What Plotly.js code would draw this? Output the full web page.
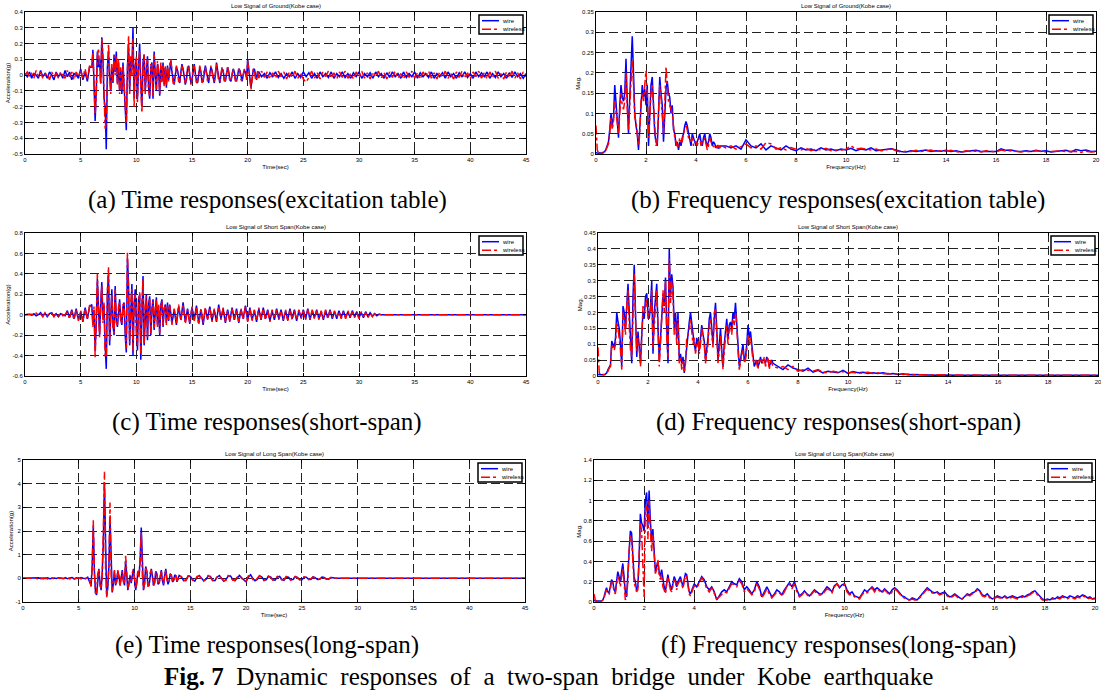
<!DOCTYPE html>
<html><head><meta charset="utf-8">
<script src="https://cdn.plot.ly/plotly-3.0.1.min.js"></script>
<style>html,body{margin:0;padding:0;background:#fff;}#chart{width:1101px;height:695px;}</style>
</head><body><div id="chart"></div>
<script>
function seq(a,b,step){const n=Math.round((b-a)/step);const o=[];for(let i=0;i<=n;i++)o.push(+(a+i*step).toFixed(3));return o;}

// ---------- sample axes (seconds / Hz) ----------
const groundTime = [].concat(seq(0,5.8,0.2), seq(6,12.9,0.1), seq(13,20.9,0.1), seq(21,45,0.25));
const groundFreq = [].concat(seq(0,5,0.05), seq(5.2,20,0.2));
const shortTime  = [].concat(seq(0,5.8,0.2), seq(6,12.9,0.1), seq(13,31.8,0.2), seq(32,45,1));
const shortFreq  = [].concat(seq(0,7,0.05), seq(7.2,20,0.2));
const longTime   = [].concat(seq(0,5.8,0.2), seq(6,13.9,0.1), seq(14,27.8,0.2), seq(28,45,1));
const longFreq   = [].concat(seq(0,4,0.05), seq(4.1,20,0.1));

// ---------- (a) ground, time ----------
const groundTimeWire = [
0.01,-0.01,0.02,-0.02,0.01,0.00,-0.02,0.03,-0.01,0.01,
-0.02,0.02,0.00,-0.03,0.02,-0.01,0.01,-0.02,0.03,-0.01,
0.02,-0.03,0.01,0.00,-0.02,0.04,-0.03,0.02,-0.04,0.05,
0.05,0.16,-0.05,-0.29,-0.1,0.15,0.05,0.1,-0.05,0.24,
0.1,-0.15,-0.2,-0.47,0.05,0.15,0.0,-0.1,0.05,-0.05,
0.13,0.02,0.15,-0.05,0.08,-0.1,0.03,-0.12,0.08,-0.05,
-0.2,-0.35,0.05,0.2,-0.1,0.1,0.05,0.3,-0.15,0.05,
0.1,-0.15,0.05,0.2,-0.05,-0.2,0.08,0.13,-0.1,0.05,
0.12,-0.08,-0.15,0.05,0.08,-0.15,0.15,0.0,-0.1,0.07,
0.03,-0.13,0.06,-0.04,0.08,-0.06,0.05,-0.08,0.06,-0.03,
0.06,0.09,0.02,-0.04,-0.06,0.0,0.05,0.03,-0.03,-0.05,
0.02,0.07,0.04,-0.02,-0.06,-0.03,0.04,0.06,0.0,-0.05,
-0.03,0.04,0.07,0.01,-0.04,-0.05,0.02,0.05,0.02,-0.04,
-0.04,0.03,0.06,0.02,-0.03,-0.05,0.01,0.05,0.03,-0.02,
-0.05,0.0,0.08,0.03,-0.03,-0.05,0.0,0.04,0.03,-0.03,
-0.04,0.01,0.05,0.02,-0.03,-0.04,0.01,0.04,0.02,-0.03,
-0.04,0.0,0.04,0.03,-0.02,-0.04,0.0,0.03,0.02,-0.02,
0.1,0.03,-0.04,-0.08,-0.02,0.03,0.04,-0.01,-0.03,0.02,
0.02,-0.01,0.01,-0.02,0.015,-0.01,0.02,-0.015,0.01,-0.02,
0.01,-0.01,0.02,-0.02,0.01,-0.015,0.02,-0.01,0.015,-0.02,
0.01,-0.02,0.02,-0.01,0.01,-0.015,0.02,-0.02,0.01,-0.01,
0.02,-0.015,0.01,-0.02,0.015,-0.01,0.02,-0.02,0.01,-0.01,
0.015,-0.02,0.02,-0.01,0.01,-0.02,0.015,-0.015,0.02,-0.01,
0.01,-0.02,0.02,-0.015,0.01,-0.01,0.02,-0.02,0.015,-0.01,
0.01,-0.015,0.02,-0.02,0.01,-0.01,0.015,-0.02,0.02,-0.01,
0.01,-0.02,0.015,-0.01,0.02,-0.015,0.01,-0.02,0.02,-0.01,
0.015,-0.01,0.02,-0.02,0.01,-0.015,0.02,-0.01,0.01,-0.02,
0.015,-0.015,0.02,-0.01,0.01,-0.02,0.01];
const groundTimeWireless = [
0.00,0.02,-0.01,0.01,-0.02,0.03,-0.01,0.02,-0.02,0.00,
0.01,-0.03,0.02,-0.01,0.01,-0.02,0.02,0.00,-0.02,0.03,
-0.01,0.02,-0.03,0.02,-0.01,0.03,-0.02,0.04,-0.03,0.06,
0.04,0.14,-0.08,-0.25,-0.12,0.12,0.17,0.08,-0.06,0.23,
0.12,-0.12,-0.34,-0.3,0.02,0.2,0.03,-0.12,0.07,-0.04,
0.12,0.0,0.12,-0.06,0.1,-0.12,0.05,-0.1,0.06,-0.08,
-0.18,-0.3,0.02,0.25,-0.12,0.12,0.0,0.23,-0.2,0.07,
0.12,-0.18,0.08,0.15,-0.08,-0.24,0.05,0.13,-0.12,0.07,
0.1,-0.1,-0.13,0.07,0.06,-0.14,0.13,-0.02,-0.09,0.09,
0.02,-0.12,0.08,-0.05,0.07,-0.07,0.06,-0.06,0.05,-0.04,
0.07,0.1,0.0,-0.05,-0.05,0.02,0.06,0.02,-0.04,-0.04,
0.03,0.06,0.03,-0.03,-0.05,-0.02,0.05,0.05,-0.01,-0.06,
-0.02,0.05,0.06,0.0,-0.05,-0.04,0.03,0.06,0.01,-0.05,
-0.03,0.04,0.05,0.01,-0.04,-0.04,0.02,0.06,0.02,-0.03,
-0.04,0.02,0.07,0.02,-0.04,-0.04,0.01,0.05,0.02,-0.04,
-0.03,0.02,0.05,0.01,-0.04,-0.03,0.02,0.04,0.01,-0.04,
-0.03,0.01,0.04,0.02,-0.03,-0.03,0.01,0.04,0.01,-0.03,
0.09,0.04,-0.03,-0.09,-0.03,0.04,0.03,-0.02,-0.02,0.03,
-0.02,0.025,-0.015,0.02,-0.025,0.015,-0.02,0.025,-0.01,0.02,
-0.025,0.02,-0.015,0.025,-0.02,0.01,-0.025,-0.045,-0.015,0.025,
-0.02,0.015,-0.025,0.02,-0.01,0.025,-0.02,0.015,-0.025,0.02,
-0.015,0.025,-0.02,0.01,-0.025,0.02,-0.015,0.025,-0.02,0.015,
-0.025,0.02,-0.01,0.025,-0.02,0.015,-0.025,0.02,-0.015,0.025,
-0.02,0.01,-0.025,0.02,-0.015,0.025,-0.02,0.015,-0.025,0.02,
-0.01,0.025,-0.02,0.015,-0.025,0.02,-0.015,0.025,-0.02,0.01,
-0.025,0.02,-0.015,0.025,-0.02,0.015,-0.025,0.02,-0.01,0.025,
-0.02,0.015,-0.025,0.02,-0.015,0.025,-0.02,0.01,-0.025,0.02,
-0.015,0.025,-0.02,0.015,-0.025,0.02,-0.01];

// ---------- (b) ground, frequency ----------
const groundFreqWire = [
0.003,0.002,0.002,0.003,0.002,0.003,0.004,0.006,0.012,0.02,
0.03,0.06,0.1,0.07,0.09,0.17,0.12,0.09,0.04,0.12,
0.17,0.14,0.13,0.15,0.235,0.13,0.05,0.14,0.22,0.29,
0.2,0.1,0.07,0.05,0.01,0.06,0.12,0.17,0.14,0.16,
0.12,0.17,0.02,0.1,0.17,0.19,0.1,0.05,0.03,0.02,
0.1,0.19,0.15,0.12,0.03,0.1,0.16,0.18,0.15,0.14,
0.1,0.12,0.06,0.05,0.02,0.03,0.01,0.03,0.02,0.04,
0.05,0.07,0.08,0.07,0.05,0.03,0.02,0.05,0.04,0.03,
0.02,0.03,0.04,0.05,0.03,0.02,0.04,0.05,0.03,0.02,
0.03,0.05,0.04,0.02,0.03,0.025,0.015,0.02,0.015,0.02,
0.02,
0.02,0.015,0.02,0.012,0.035,0.02,0.015,0.025,0.01,0.02,
0.015,0.01,0.02,0.012,0.008,0.015,0.01,0.012,0.008,0.015,
0.01,0.012,0.008,0.012,0.01,0.014,0.008,0.012,0.01,0.015,
0.008,0.01,0.012,0.013,0.01,0.006,0.005,0.008,0.006,0.008,
0.01,0.006,0.008,0.007,0.009,0.006,0.008,0.005,0.006,0.007,
0.009,0.006,0.006,0.007,0.006,0.013,0.009,0.01,0.007,0.006,
0.008,0.006,0.009,0.007,0.008,0.005,0.006,0.007,0.009,0.005,
0.011,0.008,0.01,0.006,0.007];
const groundFreqWireless = [
0.07,0.01,0.003,0.002,0.003,0.002,0.003,0.005,0.01,0.02,
0.025,0.05,0.09,0.06,0.08,0.13,0.1,0.07,0.05,0.1,
0.15,0.12,0.11,0.13,0.2,0.11,0.06,0.12,0.18,0.23,
0.17,0.09,0.08,0.04,0.02,0.05,0.13,0.15,0.13,0.17,
0.205,0.15,0.04,0.09,0.15,0.17,0.12,0.04,0.02,0.03,
0.09,0.17,0.14,0.1,0.05,0.12,0.215,0.17,0.13,0.12,
0.11,0.1,0.07,0.04,0.03,0.02,0.02,0.04,0.03,0.03,
0.05,0.06,0.07,0.06,0.04,0.04,0.03,0.04,0.02,0.03,
0.03,0.02,0.035,0.04,0.02,0.03,0.03,0.04,0.02,0.01,
0.02,0.04,0.03,0.02,0.02,0.015,0.02,0.015,0.02,0.015,
0.02,
0.015,0.02,0.012,0.018,0.025,0.015,0.02,0.012,0.028,0.025,
0.012,0.015,0.01,0.016,0.012,0.01,0.014,0.008,0.012,0.01,
0.014,0.008,0.01,0.009,0.012,0.02,0.012,0.014,0.012,0.01,
0.012,0.008,0.01,0.014,0.008,0.005,0.007,0.006,0.009,0.006,
0.008,0.01,0.006,0.008,0.007,0.009,0.006,0.004,0.008,0.006,
0.007,0.005,0.008,0.006,0.005,0.01,0.007,0.008,0.006,0.005,
0.007,0.005,0.008,0.006,0.005,0.006,0.007,0.008,0.006,0.007,
0.006,0.004,0.007,0.005,0.006];

// ---------- (c) short span, time ----------
const shortTimeWire = [
0,0,0.005,-0.005,0.01,-0.01,0,0.02,-0.01,0.015,
-0.02,0.01,0.02,-0.015,0.01,-0.02,0.01,0.0,-0.01,0.04,
-0.03,0.05,-0.04,0.06,-0.05,0.03,-0.07,0.07,-0.04,0.08,
0.1,-0.1,0.05,-0.35,-0.1,0.35,0.05,-0.2,0.1,0.32,
-0.05,0.1,-0.3,-0.53,0.2,0.4,-0.3,0.1,0.25,-0.1,
-0.2,0.28,-0.05,-0.12,0.05,0.15,-0.05,-0.1,0.08,0.12,
-0.2,-0.37,0.55,0.3,-0.3,0.1,0.3,-0.4,0.1,0.25,
-0.2,-0.35,0.15,0.2,-0.44,0.1,0.38,-0.3,0.05,0.2,
-0.25,0.1,0.18,-0.2,0.05,0.15,-0.15,0.05,0.17,-0.1,
0.08,-0.2,0.1,0.15,-0.12,0.05,0.1,-0.08,0.12,-0.06,
0.1,-0.08,0.05,-0.1,0.08,-0.05,0.12,-0.07,0.06,-0.09,
0.07,-0.05,0.09,-0.08,0.05,-0.1,0.06,-0.04,0.08,-0.06,
0.05,-0.07,0.1,-0.04,0.06,-0.08,0.05,-0.06,0.07,-0.05,
0.06,-0.08,0.05,-0.04,0.09,-0.06,0.07,-0.05,0.04,-0.07,
0.06,-0.05,0.07,-0.04,0.05,-0.06,0.04,-0.05,0.06,-0.04,
0.05,-0.06,0.04,-0.05,0.06,-0.04,0.05,-0.06,0.04,-0.03,
0.05,-0.04,0.06,-0.05,0.04,-0.03,0.05,-0.04,0.03,-0.05,
0.04,-0.03,0.05,-0.04,0.03,-0.04,0.04,-0.03,0.04,-0.03,
0.03,-0.03,0.04,-0.02,0.03,-0.03,0.02,-0.03,0.03,-0.02,
0.02,-0.015,0.01,-0.01,0.005,
0,0,0,0,0,0,0,0,0,0,0,0,0,0];
const shortTimeWireless = [
0,0,0,0.005,-0.01,0.015,-0.005,0.01,-0.02,0.02,
-0.01,0.02,0.015,-0.02,0.015,-0.01,0.02,-0.01,0.0,0.03,
-0.04,0.04,-0.05,0.05,-0.06,0.04,-0.06,0.06,-0.05,0.09,
0.08,-0.12,0.08,-0.42,-0.05,0.4,0.02,-0.22,0.12,0.28,
-0.08,0.12,-0.42,-0.4,0.25,0.47,-0.25,0.08,0.2,-0.12,
-0.18,0.25,-0.08,-0.1,0.08,0.12,-0.08,-0.08,0.1,0.1,
-0.22,-0.33,0.62,0.25,-0.28,0.12,0.25,-0.35,0.12,0.2,
-0.22,-0.3,0.12,0.22,-0.38,0.12,0.35,-0.28,0.08,0.18,
-0.22,0.12,0.15,-0.18,0.07,0.13,-0.13,0.07,0.15,-0.12,
0.1,-0.18,0.12,0.13,-0.1,0.07,0.08,-0.1,0.1,-0.05,
0.09,-0.1,0.06,-0.08,0.1,-0.06,0.1,-0.09,0.05,-0.08,
0.08,-0.06,0.07,-0.1,0.06,-0.08,0.07,-0.05,0.07,-0.07,
0.06,-0.06,0.08,-0.05,0.07,-0.07,0.04,-0.07,0.06,-0.06,
0.05,-0.07,0.06,-0.05,0.08,-0.07,0.06,-0.06,0.05,-0.06,
0.07,-0.04,0.06,-0.05,0.04,-0.07,0.05,-0.04,0.05,-0.05,
0.04,-0.05,0.05,-0.06,0.05,-0.05,0.04,-0.05,0.05,-0.04,
0.04,-0.05,0.05,-0.04,0.05,-0.04,0.04,-0.05,0.04,-0.04,
0.05,-0.04,0.04,-0.03,0.04,-0.03,0.03,-0.04,0.03,-0.04,
0.04,-0.02,0.03,-0.03,0.02,-0.04,0.03,-0.02,0.02,-0.03,
0.015,-0.02,0.01,-0.005,0.005,
0,0,0,0,0,0,0,0,0,0,0,0,0,0];

// ---------- (d) short span, frequency ----------
const shortFreqWire = [
0.005,0.004,0.003,0.004,0.005,0.004,0.006,0.01,0.02,0.03,
0.035,0.11,0.1,0.09,0.12,0.2,0.17,0.15,0.1,0.03,
0.22,0.2,0.15,0.25,0.29,0.2,0.1,0.04,0.25,0.35,
0.2,0.06,0.14,0.1,0.04,0.13,0.2,0.18,0.25,0.26,
0.2,0.18,0.22,0.3,0.07,0.2,0.25,0.29,0.15,0.05,
0.12,0.2,0.25,0.22,0.31,0.15,0.04,0.4,0.25,0.32,
0.28,0.15,0.2,0.12,0.2,0.05,0.07,0.04,0.06,0.01,
0.05,0.1,0.15,0.17,0.2,0.16,0.12,0.1,0.08,0.12,
0.1,0.08,0.12,0.16,0.13,0.11,0.05,0.08,0.12,0.18,
0.2,0.15,0.1,0.18,0.23,0.15,0.05,0.1,0.15,0.08,
0.03,0.1,0.15,0.18,0.12,0.16,0.17,0.15,0.2,0.18,
0.23,0.18,0.1,0.03,0.05,0.08,0.1,0.05,0.06,0.1,
0.16,0.12,0.14,0.1,0.06,0.03,0.04,0.05,0.03,0.04,
0.06,0.04,0.05,0.05,0.04,0.06,0.05,0.03,0.04,0.05,
0.04,
0.03,0.02,0.035,0.025,0.02,0.015,0.025,0.012,0.018,0.01,
0.015,0.012,0.01,0.018,0.008,0.014,0.01,0.012,0.008,0.01,
0.008,0.01,0.006,0.008,0.005,0.007,0.004,0.005,0.004,0.003,
0.004,0.003,0.002,0.003,0.002,0.003,0.002,0.002,0.003,0.002,
0.002,0.002,0.003,0.002,0.002,0.002,0.002,0.003,0.002,0.002,
0.002,0.002,0.002,0.003,0.002,0.002,0.002,0.002,0.002,0.002,
0.002,0.002,0.002,0.002,0.002];
const shortFreqWireless = [
0.09,0.01,0.003,0.004,0.004,0.005,0.005,0.01,0.015,0.025,
0.03,0.1,0.09,0.08,0.1,0.17,0.15,0.12,0.08,0.02,
0.2,0.18,0.13,0.22,0.27,0.16,0.08,0.06,0.22,0.32,
0.18,0.08,0.12,0.09,0.03,0.12,0.22,0.2,0.22,0.24,
0.18,0.2,0.2,0.27,0.09,0.18,0.22,0.27,0.12,0.03,
0.1,0.18,0.27,0.2,0.3,0.12,0.06,0.37,0.23,0.3,
0.25,0.13,0.17,0.1,0.18,0.04,0.06,0.02,0.05,0.01,
0.04,0.12,0.13,0.15,0.18,0.14,0.1,0.12,0.07,0.1,
0.11,0.07,0.1,0.15,0.12,0.1,0.04,0.07,0.1,0.16,
0.18,0.13,0.09,0.2,0.21,0.13,0.04,0.08,0.13,0.07,
0.02,0.08,0.13,0.16,0.1,0.15,0.16,0.13,0.18,0.16,
0.2,0.16,0.08,0.02,0.04,0.07,0.08,0.04,0.05,0.08,
0.13,0.1,0.12,0.08,0.05,0.04,0.05,0.04,0.02,0.05,
0.05,0.05,0.04,0.06,0.03,0.05,0.06,0.02,0.05,0.04,
0.03,
0.025,0.03,0.02,0.03,0.015,0.02,0.018,0.015,0.02,0.012,
0.01,0.015,0.012,0.014,0.01,0.012,0.008,0.01,0.012,0.008,
0.01,0.007,0.008,0.006,0.007,0.005,0.006,0.004,0.003,0.004,
0.003,0.004,0.003,0.002,0.003,0.002,0.003,0.002,0.002,0.003,
0.002,0.003,0.002,0.002,0.002,0.003,0.002,0.002,0.002,0.002,
0.002,0.002,0.003,0.002,0.002,0.002,0.002,0.002,0.003,0.002,
0.002,0.002,0.002,0.002,0.002];

// ---------- (e) long span, time ----------
const longTimeWire = [
0,0,0,0,0,0,0,0.02,-0.02,0.01,
-0.01,0.02,-0.02,0,0.01,-0.01,0.02,0,-0.01,0.03,
-0.02,0.01,0.03,-0.02,0.02,-0.01,0.03,0,-0.02,0.05,
-0.2,-0.3,0.5,2.2,0.3,-0.6,-0.7,0.1,0.4,-0.2,
-0.5,0.2,1.5,4.05,0.8,-0.75,-0.4,0.5,2.6,0.2,
-0.6,-0.2,0.3,-0.3,-0.1,0.3,0.1,-0.3,0.1,0.35,
-0.1,-0.3,0.75,0.2,-0.5,-0.2,0.1,-0.2,0.2,0.4,
0.0,-0.5,-0.2,0.3,0.1,0.8,2.15,0.2,-0.5,-0.2,
0.5,0.3,-0.3,-0.3,0.2,0.4,0.1,-0.3,-0.2,0.3,
0.2,-0.25,-0.2,0.2,0.35,-0.1,-0.3,0.1,0.4,0.0,
-0.25,-0.1,0.2,0.1,-0.15,-0.1,0.15,0.1,-0.15,0.0,
0.12,0.05,-0.1,-0.08,0.1,0.08,-0.05,-0.12,0.05,0.12,
0.0,-0.1,-0.05,0.1,0.08,-0.08,-0.1,0.05,0.12,0.0,
-0.12,-0.05,0.1,0.1,-0.05,-0.1,0.02,0.12,0.02,-0.08,
-0.15,0.05,0.15,0.0,-0.1,-0.05,0.1,0.06,-0.08,-0.06,
0.08,0.06,-0.06,-0.08,0.05,0.08,-0.04,-0.08,0.06,0.05,
-0.06,-0.05,0.07,0.04,-0.05,-0.06,0.05,0.05,-0.04,-0.05,
0.06,0.03,-0.05,-0.04,0.05,0.04,-0.03,-0.04,0.03,0.02,
0,0,0,0,0,0,0,0,0,0,0,0,0,0,0,0,0,0];
const longTimeWireless = [
0,0,0,0,0,0,0,-0.05,0.02,-0.02,
0.02,-0.03,0.01,0.02,-0.02,0.01,0,0.02,-0.02,0.02,
0.04,-0.02,0.02,-0.03,0.01,0.02,-0.02,0.03,-0.01,0.02,
-0.1,-0.35,0.4,2.45,0.2,-0.65,-0.6,0.2,0.35,-0.3,
-0.45,0.1,2.0,4.5,0.5,-0.8,-0.3,0.6,3.2,0.1,
-0.55,-0.1,0.35,-0.25,-0.15,0.35,0.05,-0.35,0.15,0.3,
-0.15,-0.25,0.95,0.1,-0.45,-0.25,0.15,-0.15,0.25,0.35,
-0.05,-0.45,-0.15,0.35,0.05,0.7,1.95,0.1,-0.45,-0.25,
0.45,0.25,-0.35,-0.25,0.25,0.35,0.05,-0.3,-0.15,0.25,
0.25,-0.2,-0.25,0.15,0.3,-0.05,-0.25,0.15,0.35,-0.05,
-0.2,-0.15,0.15,0.15,-0.1,-0.15,0.1,0.15,-0.1,-0.05,
0.1,0.08,-0.08,-0.1,0.08,0.1,-0.08,-0.1,0.08,0.1,
-0.02,-0.12,-0.02,0.12,0.05,-0.1,-0.08,0.08,0.1,-0.02,
-0.1,-0.08,0.12,0.08,-0.08,-0.08,0.05,0.1,0.0,-0.1,
-0.12,0.1,0.12,-0.05,-0.12,0.0,0.12,0.03,-0.1,-0.03,
0.1,0.03,-0.08,-0.05,0.08,0.05,-0.07,-0.05,0.08,0.02,
-0.08,-0.02,0.08,0.02,-0.07,-0.03,0.07,0.02,-0.06,-0.02,
0.06,0.01,-0.06,-0.02,0.05,0.02,-0.04,-0.02,0.03,0.01,
0,0,0,0,0,0,0,0,0,0,0,0,0,0,0,0,0,0];

// ---------- (f) long span, frequency ----------
const longFreqWire = [
0.02,0.01,0.01,0.01,0.01,0.01,0.01,0.02,0.05,0.1,
0.14,0.1,0.09,0.15,0.22,0.2,0.12,0.1,0.18,0.3,
0.25,0.2,0.3,0.38,0.25,0.1,0.05,0.25,0.55,0.7,
0.68,0.5,0.25,0.2,0.12,0.15,0.42,0.87,0.78,0.75,
0.7,1.0,1.08,0.75,1.1,0.8,0.6,0.72,0.5,0.3,
0.35,0.4,0.3,0.25,0.32,0.2,0.15,0.1,0.22,0.27,
0.2,0.15,0.12,0.18,0.25,0.22,0.15,0.2,0.23,0.25,
0.2,0.15,0.22,0.28,0.27,0.2,0.1,0.08,0.12,0.16,
0.18,
0.15,0.2,0.25,0.22,0.15,0.12,0.15,0.1,0.02,0.06,
0.1,0.12,0.1,0.15,0.2,0.18,0.17,0.23,0.2,0.12,
0.15,0.12,0.08,0.12,0.2,0.15,0.05,0.1,0.15,0.1,
0.05,0.08,0.12,0.1,0.07,0.12,0.16,0.19,0.15,0.2,
0.12,0.06,0.08,0.11,0.08,0.06,0.09,0.12,0.1,0.08,
0.08,0.12,0.15,0.13,0.1,0.16,0.18,0.14,0.17,0.18,
0.12,0.08,0.1,0.06,0.05,0.04,0.08,0.12,0.1,0.13,
0.15,0.12,0.14,0.12,0.1,0.13,0.1,0.08,0.12,0.14,
0.12,0.09,0.06,0.05,0.03,0.02,0.04,0.03,0.02,0.05,
0.08,0.12,0.14,0.12,0.1,0.09,0.1,0.08,0.09,0.1,
0.07,0.05,0.06,0.08,0.06,0.04,0.03,0.06,0.08,0.07,
0.09,0.1,0.13,0.11,0.07,0.06,0.08,0.05,0.03,0.04,
0.06,0.05,0.04,0.06,0.04,0.05,0.06,0.05,0.04,0.05,
0.06,0.05,0.07,0.08,0.1,0.11,0.08,0.05,0.03,0.02,
0.03,0.02,0.04,0.03,0.05,0.04,0.06,0.05,0.04,0.06,
0.05,0.04,0.06,0.05,0.07,0.06,0.04,0.05,0.03,0.04];
const longFreqWireless = [
0.08,0.02,0.01,0.01,0.01,0.01,0.01,0.02,0.04,0.08,
0.12,0.09,0.08,0.12,0.2,0.18,0.1,0.08,0.15,0.25,
0.22,0.15,0.25,0.33,0.2,0.02,0.05,0.2,0.5,0.65,
0.62,0.45,0.2,0.15,0.1,0.12,0.38,0.78,0.7,0.3,
0.05,0.9,0.95,0.62,1.0,0.7,0.5,0.67,0.45,0.28,
0.32,0.42,0.27,0.22,0.28,0.15,0.12,0.08,0.18,0.25,
0.18,0.12,0.1,0.15,0.22,0.2,0.12,0.18,0.2,0.22,
0.18,0.13,0.2,0.26,0.25,0.18,0.08,0.06,0.1,0.14,
0.16,
0.14,0.18,0.24,0.2,0.13,0.1,0.14,0.08,0.03,0.05,
0.08,0.1,0.09,0.13,0.18,0.17,0.15,0.21,0.18,0.1,
0.13,0.1,0.07,0.1,0.18,0.13,0.04,0.08,0.13,0.08,
0.04,0.07,0.1,0.09,0.06,0.1,0.15,0.18,0.13,0.18,
0.1,0.05,0.07,0.1,0.07,0.05,0.08,0.11,0.08,0.07,
0.07,0.1,0.13,0.12,0.09,0.15,0.18,0.15,0.16,0.17,
0.1,0.07,0.08,0.05,0.04,0.03,0.07,0.1,0.09,0.12,
0.14,0.1,0.13,0.11,0.09,0.12,0.09,0.07,0.1,0.13,
0.11,0.08,0.05,0.04,0.02,0.02,0.03,0.02,0.02,0.04,
0.07,0.1,0.13,0.1,0.09,0.08,0.09,0.07,0.08,0.09,
0.06,0.04,0.05,0.07,0.05,0.03,0.03,0.05,0.07,0.06,
0.08,0.09,0.12,0.1,0.06,0.05,0.07,0.04,0.03,0.04,
0.05,0.04,0.04,0.05,0.03,0.04,0.05,0.04,0.03,0.04,
0.05,0.04,0.06,0.07,0.09,0.1,0.07,0.04,0.02,0.02,
0.02,0.02,0.03,0.03,0.04,0.03,0.05,0.04,0.03,0.05,
0.04,0.03,0.05,0.04,0.06,0.05,0.03,0.04,0.03,0.03];

// ---------- tick labels / names ----------
const timeTicks = [0,5,10,15,20,25,30,35,40,45];
const freqTicks = [0,2,4,6,8,10,12,14,16,18,20];
const groundTimeYTicks = [-0.5,-0.4,-0.3,-0.2,-0.1,0,0.1,0.2,0.3,0.4];
const groundFreqYTicks = [0,0.05,0.1,0.15,0.2,0.25,0.3,0.35];
const shortTimeYTicks = [-0.6,-0.4,-0.2,0,0.2,0.4,0.6,0.8];
const shortFreqYTicks = [0,0.05,0.1,0.15,0.2,0.25,0.3,0.35,0.4,0.45];
const longTimeYTicks = [-1,0,1,2,3,4,5];
const longFreqYTicks = [0,0.2,0.4,0.6,0.8,1,1.2,1.4];
const seriesNames = ['wire','wireless'];
const seriesColors = ['#0000ff','#ff0000'];
const seriesDash = ['solid','dashdot'];

// ---------- layout ----------
const W = 1101, H = 695;
const px = v => v / W, py = v => 1 - v / H;
const panels = [
 {box:[25,12,526,154],  x:groundTime, w:groundTimeWire, r:groundTimeWireless, xt:timeTicks, yt:groundTimeYTicks, title:'Low Signal of Ground(Kobe case)', xtitle:'Time(sec)', ytitle:'Acceleration(g)'},
 {box:[596,12,1096,154],x:groundFreq, w:groundFreqWire, r:groundFreqWireless, xt:freqTicks, yt:groundFreqYTicks, title:'Low Signal of Ground(Kobe case)', xtitle:'Frequency(Hz)', ytitle:'Mag.'},
 {box:[25,233,526,376], x:shortTime, w:shortTimeWire, r:shortTimeWireless, xt:timeTicks, yt:shortTimeYTicks, title:'Low Signal of Short Span(Kobe case)', xtitle:'Time(sec)', ytitle:'Acceleration(g)'},
 {box:[598,233,1098,376],x:shortFreq, w:shortFreqWire, r:shortFreqWireless, xt:freqTicks, yt:shortFreqYTicks, title:'Low Signal of Short Span(Kobe case)', xtitle:'Frequency(Hz)', ytitle:'Mag.'},
 {box:[23,460,525,602], x:longTime, w:longTimeWire, r:longTimeWireless, xt:timeTicks, yt:longTimeYTicks, title:'Low Signal of Long Span(Kobe case)', xtitle:'Time(sec)', ytitle:'Acceleration(g)'},
 {box:[594,460,1095,602],x:longFreq, w:longFreqWire, r:longFreqWireless, xt:freqTicks, yt:longFreqYTicks, title:'Low Signal of Long Span(Kobe case)', xtitle:'Frequency(Hz)', ytitle:'Mag.'}
];

const small = {family:'Liberation Sans, Arial, sans-serif', size:6, color:'#000'};
const axisCommon = {showline:true, linecolor:'#000', linewidth:1, mirror:'ticks', ticks:'inside', ticklen:3, tickwidth:1, tickcolor:'#000',
  showgrid:true, gridcolor:'#222', gridwidth:1, griddash:'9px,4px', zeroline:false, tickfont:small, automargin:false,
  fixedrange:true, ticklabeloverflow:'allow'};

const traces = [];
const layout = {width:W, height:H, margin:{l:0,r:0,t:0,b:0}, paper_bgcolor:'#fff', plot_bgcolor:'#fff', showlegend:false,
  font:{family:'Liberation Sans, Arial, sans-serif', color:'#000'}, annotations:[], shapes:[]};

panels.forEach((p,i)=>{
  const k = i===0 ? '' : String(i+1);
  const [x0,y0,x1,y1] = p.box;
  layout['xaxis'+k] = Object.assign({}, axisCommon, {domain:[px(x0), px(x1)], anchor:'y'+k,
     range:[p.xt[0], p.xt[p.xt.length-1]], tickmode:'array', tickvals:p.xt, ticktext:p.xt.map(String),
     title:{text:p.xtitle, font:small, standoff:2}});
  layout['yaxis'+k] = Object.assign({}, axisCommon, {domain:[py(y1), py(y0)], anchor:'x'+k,
     range:[p.yt[0], p.yt[p.yt.length-1]], tickmode:'array', tickvals:p.yt, ticktext:p.yt.map(String),
     title:{text:p.ytitle, font:small, standoff:1}});
  [p.w, p.r].forEach((ys,j)=>traces.push({type:'scatter', mode:'lines', x:p.x, y:ys, xaxis:'x'+k, yaxis:'y'+k,
     name:seriesNames[j], line:{color:seriesColors[j], width:1.5, dash:seriesDash[j]}, hoverinfo:'skip'}));
  layout.annotations.push({xref:'paper', yref:'paper', x:px((x0+x1)/2), y:py(y0-6), text:p.title,
     showarrow:false, xanchor:'center', yanchor:'middle', font:small});
  // legend box (MATLAB style, top right inside the axes)
  layout.shapes.push({type:'rect', xref:'paper', yref:'paper', x0:px(x1-47), x1:px(x1-3), y0:py(y0+22), y1:py(y0+3),
     line:{color:'#000', width:1.5}, fillcolor:'#fff', layer:'above'});
  [8.7, 17.3].forEach((dy,j)=>{
    layout.shapes.push({type:'line', xref:'paper', yref:'paper', x0:px(x1-44), x1:px(x1-27), y0:py(y0+dy), y1:py(y0+dy),
       line:{color:seriesColors[j], width:1.5, dash:seriesDash[j]}, layer:'above'});
    layout.annotations.push({xref:'paper', yref:'paper', x:px(x1-25.5), y:py(y0+dy), text:seriesNames[j], showarrow:false,
       xanchor:'left', yanchor:'middle', font:small, borderpad:0});
  });
  if (p.x.length !== p.w.length || p.x.length !== p.r.length) console.error('length mismatch panel '+i, p.x.length, p.w.length, p.r.length);
});

const serif = {family:'Liberation Serif, Times New Roman, serif', size:25, color:'#000'};
const captions = [
 {t:'(a) Time responses(excitation table)', x:267, y:200},
 {t:'(b) Frequency responses(excitation table)', x:838, y:200},
 {t:'(c) Time responses(short-span)', x:267, y:422},
 {t:'(d) Frequency responses(short-span)', x:838, y:422},
 {t:'(e) Time responses(long-span)', x:267, y:645},
 {t:'(f) Frequency responses(long-span)', x:838, y:645}
];
captions.forEach(c=>layout.annotations.push({xref:'paper', yref:'paper', x:px(c.x), y:py(c.y), text:c.t,
   showarrow:false, xanchor:'center', yanchor:'middle', font:serif}));
const figText = '<b>Fig. 7</b>' + '  Dynamic  responses  of  a  two-span  bridge  under  Kobe  earthquake'.replace(/ /g,'\u00A0');
layout.annotations.push({xref:'paper', yref:'paper', x:px(548), y:py(676), text:figText, showarrow:false,
   xanchor:'center', yanchor:'middle', font:serif});

Plotly.newPlot('chart', traces, layout, {staticPlot:true, displayModeBar:false});
</script>
</body></html>
